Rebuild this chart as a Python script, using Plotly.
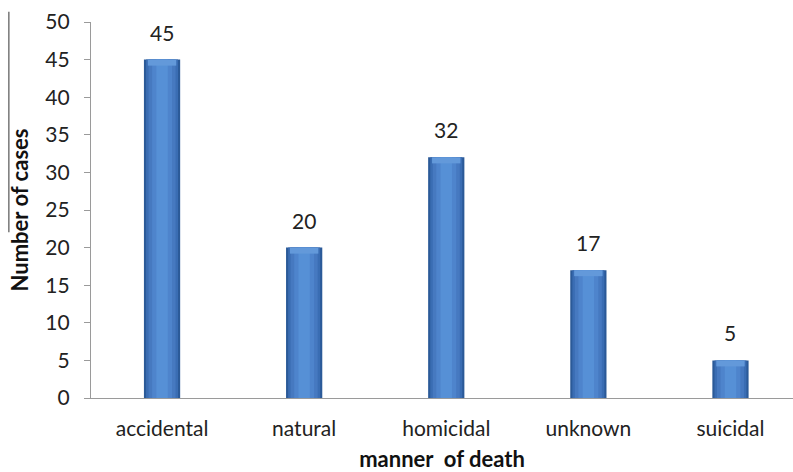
import plotly.graph_objects as go

categories = ["accidental", "natural", "homicidal", "unknown", "suicidal"]
cases = [45, 20, 32, 17, 5]
y_ticks = [0, 5, 10, 15, 20, 25, 30, 35, 40, 45, 50]

fig = go.Figure()

# Cylinder-like shading: stacked overlays from the dark rim to the light core
shades = [
    (0.255, "#2B5A98"),
    (0.225, "#3A6DB3"),
    (0.19, "#4679C0"),
    (0.14, "#4E84CC"),
    (0.08, "#5690D6"),
]
for w, c in shades:
    fig.add_trace(go.Bar(
        x=categories, y=cases, width=w,
        marker=dict(color=c, line=dict(width=0)),
        hoverinfo="skip", showlegend=False,
    ))

# Soft bevel along the top edge of each bar
cap = 0.8
fig.add_trace(go.Bar(
    x=categories, y=[cap] * len(cases), base=[v - cap for v in cases], width=0.2,
    marker=dict(color="#6399DA", line=dict(width=0)),
    hoverinfo="skip", showlegend=False,
))

# Value labels above bars
for cat, v in zip(categories, cases):
    fig.add_annotation(
        x=cat, y=v, text=str(v), showarrow=False,
        yanchor="bottom", yshift=13,
        font=dict(family="Lato, Noto Sans, sans-serif", size=21, color="#222222"),
    )

# Thin rule left of the axis title
fig.add_shape(
    type="line", xref="paper", yref="paper",
    x0=-0.117, x1=-0.117, y0=0.441, y1=1.027,
    line=dict(color="#555555", width=1.2),
)

fig.update_layout(
    width=793, height=472,
    margin=dict(l=91, r=0, t=22, b=74),
    paper_bgcolor="white", plot_bgcolor="white",
    barmode="overlay",
    font=dict(family="Lato, Noto Sans, sans-serif", color="#222222"),
    xaxis=dict(
        range=[-0.5, 4.44],
        showline=True, linecolor="#9A9A9A", linewidth=1.2,
        showgrid=False, ticks="", ticklabelstandoff=12,
        tickfont=dict(size=21, color="#222222"),
        title=dict(text="<b>manner  of death</b>", font=dict(size=22, color="#111111"), standoff=14),
    ),
    yaxis=dict(
        range=[0, 50], tickvals=y_ticks,
        showline=True, linecolor="#9A9A9A", linewidth=1.2,
        showgrid=False, zeroline=False,
        ticks="outside", ticklen=6, tickcolor="#9A9A9A", ticklabelstandoff=10,
        tickfont=dict(size=21, color="#222222"),
        title=dict(text="<b>Number of cases</b>", font=dict(size=22, color="#111111"), standoff=10),
    ),
)

fig.write_html("out.html")
